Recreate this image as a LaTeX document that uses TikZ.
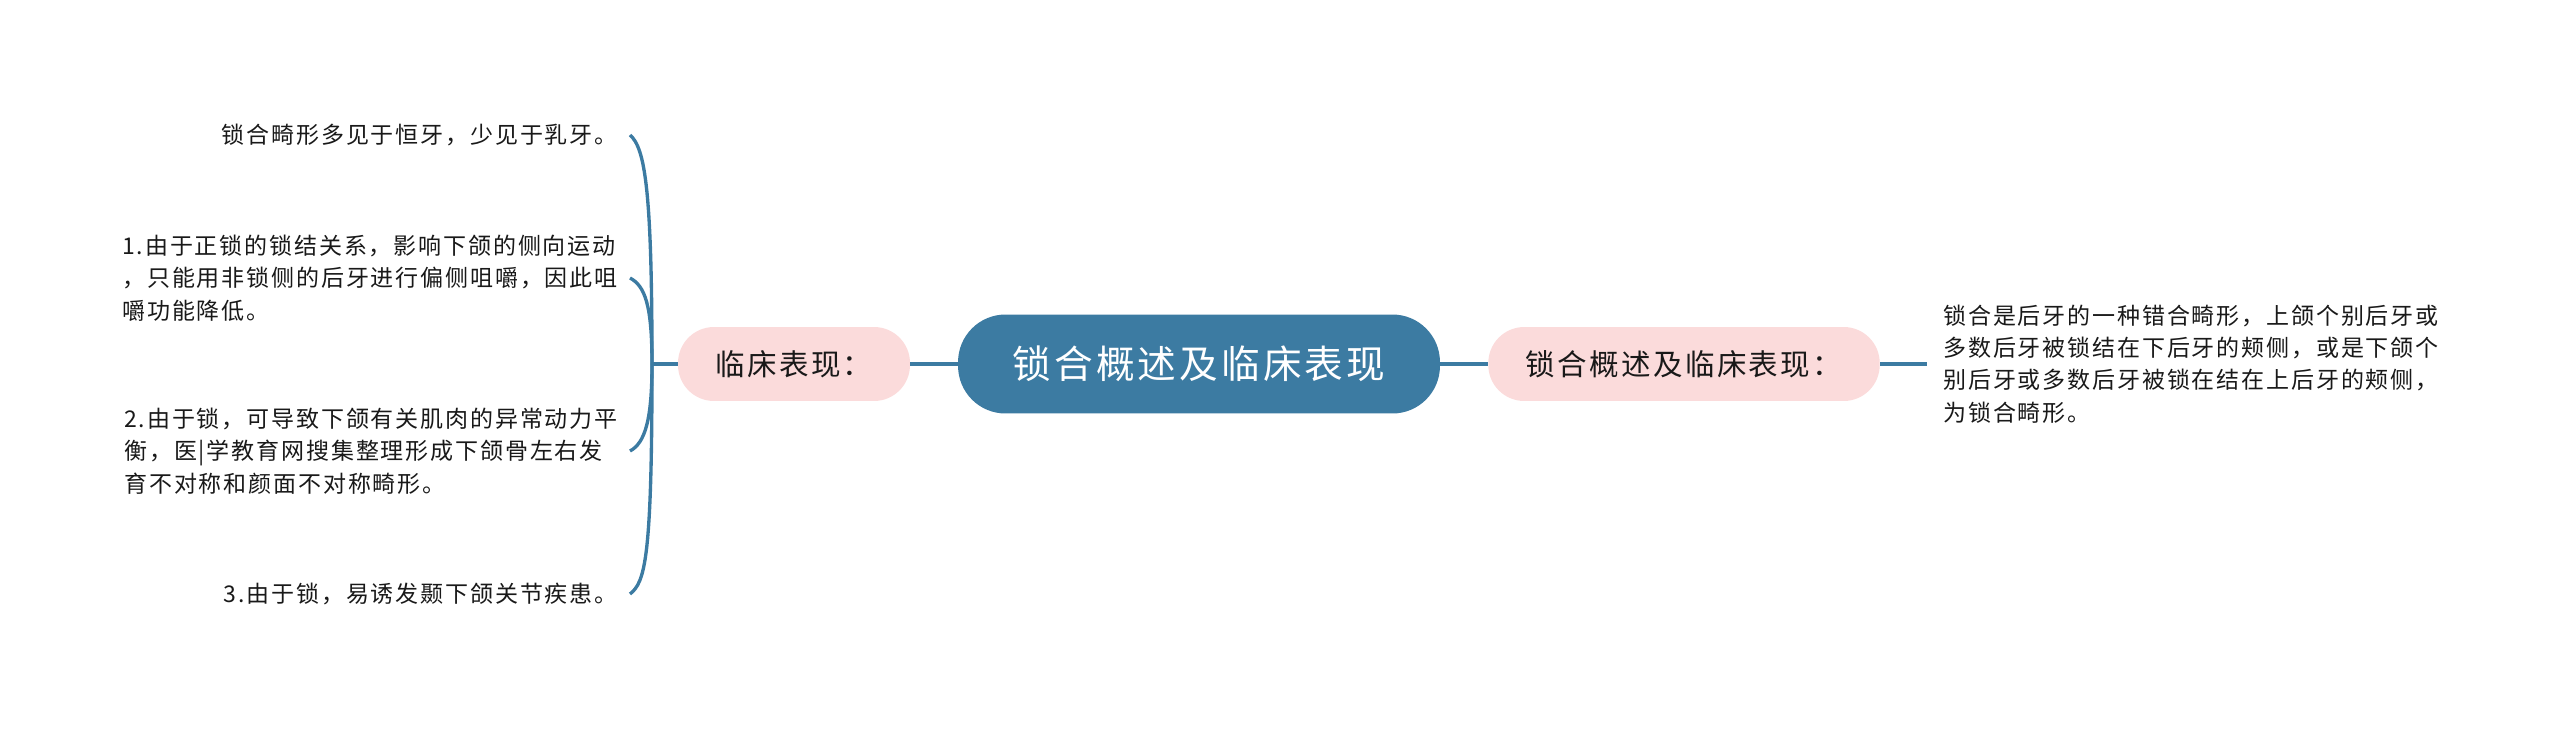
\documentclass[tikz,border=0pt]{standalone}
\usepackage{fontspec}
\setmainfont{Noto Sans CJK SC}[LetterSpace=8]
\usepackage{xcolor}
\usepackage{tikz}

\definecolor{mapblue}{RGB}{60,123,162}
\definecolor{pillpink}{RGB}{251,219,219}

\tikzset{
	rootnode/.style={fill=mapblue, text=white, rounded corners=0.95cm, minimum width=9.64cm, minimum height=1.98cm, font=\fontsize{22}{26}\selectfont},
	pill/.style={fill=pillpink, text=black!90, rounded corners=0.72cm, minimum height=1.48cm, inner xsep=0.75cm, font=\fontsize{16.8}{20}\selectfont},
	leaf/.style={text=black!90, inner xsep=0.24cm, inner ysep=0pt, align=left, font=\fontsize{13.1}{18.4}\selectfont},
	branch/.style={mapblue, line width=1.9pt},
}

\begin{document}
\begin{tikzpicture}[x=0.02cm, y=-0.02cm]
	
	\useasboundingbox (0,0) rectangle (2560,730);
	\node[rootnode] (root) at (1199,364) {锁合概述及临床表现};
	\node[pill] (clin) at (794,364) {临床表现：};
	\node[pill] (summ) at (1684,364) {锁合概述及临床表现：};
	\coordinate (hub) at (652,364);
	\node[leaf, anchor=east] (t0) at (630,135) {锁合畸形多见于恒牙，少见于乳牙。};
	\node[leaf, anchor=east] (t1) at (630,278) {1.由于正锁的锁结关系，影响下颌的侧向运动\\，只能用非锁侧的后牙进行偏侧咀嚼，因此咀\\嚼功能降低。};
	\node[leaf, anchor=east] (t2) at (630,451) {2.由于锁，可导致下颌有关肌肉的异常动力平\\衡，医|学教育网搜集整理形成下颌骨左右发\\育不对称和颜面不对称畸形。};
	\node[leaf, anchor=east] (t3) at (630,594) {3.由于锁，易诱发颞下颌关节疾患。};
	\node[leaf, anchor=west, inner xsep=0.32cm] (summtext) at (1927,364) {锁合是后牙的一种错合畸形，上颌个别后牙或\\多数后牙被锁结在下后牙的颊侧，或是下颌个\\别后牙或多数后牙被锁在结在上后牙的颊侧，\\为锁合畸形。};
	\draw[branch] (root.west) -- (clin.east);
	\draw[branch] (root.east) -- (summ.west);
	\draw[branch] (summ.east) -- (summtext.west);
	\draw[branch] (clin.west) -- (hub);
	\draw[branch] (hub) .. controls (652,190) and (645,148) .. (t0.east);
	\draw[branch] (hub) .. controls (652,305) and (645,286) .. (t1.east);
	\draw[branch] (hub) .. controls (652,420) and (645,443) .. (t2.east);
	\draw[branch] (hub) .. controls (652,560) and (645,582) .. (t3.east);
	\end{tikzpicture}
\end{document}
